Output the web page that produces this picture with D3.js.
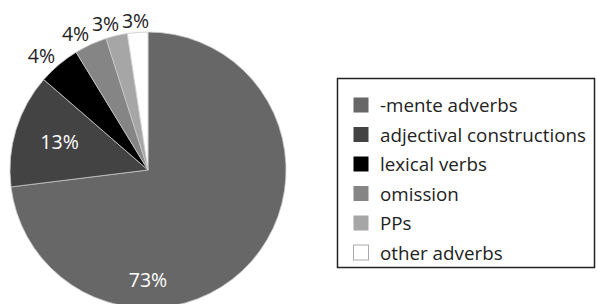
<!DOCTYPE html>
<html>
<head>
<meta charset="utf-8">
<script src="https://cdn.jsdelivr.net/npm/d3@7"></script>
<style>
  body { margin: 0; background: #fff; }
  svg { display: block; }
</style>
</head>
<body>
<svg id="chart" width="597" height="304"></svg>
<script>
const categories = ["-mente adverbs", "adjectival constructions", "lexical verbs", "omission", "PPs", "other adverbs"];
const values = [72.9, 13.3, 4.9, 3.8, 2.5, 2.4];
const labels = ["73%", "13%", "4%", "4%", "3%", "3%"];
const colors = ["#676767", "#434343", "#000000", "#858585", "#a6a6a6", "#ffffff"];

const svg = d3.select("#chart");
const cx = 148, cy = 170, R = 138;

const pie = d3.pie().sort(null).value(d => d.v);
const data = categories.map((c, i) => ({ c, v: values[i], label: labels[i], color: colors[i] }));
const arcs = pie(data);
const arc = d3.arc().innerRadius(0).outerRadius(R);

const g = svg.append("g").attr("transform", `translate(${cx},${cy})`);
g.selectAll("path.slice").data(arcs).join("path")
  .attr("class", "slice")
  .attr("d", arc)
  .attr("fill", d => d.data.color)
  .attr("stroke", "#c8c8c8")
  .attr("stroke-width", 0.8);

// label positions
arcs.forEach(d => {
  const share = (d.endAngle - d.startAngle) / (2 * Math.PI);
  const m = (d.startAngle + d.endAngle) / 2;
  if (share > 0.5) {
    d.lx = 0; d.ly = R * 0.79; d.fill = "#fff"; d.outer = false;
  } else if (share > 0.08) {
    d.lx = Math.sin(m) * R * 0.67; d.ly = -Math.cos(m) * R * 0.72; d.fill = "#fff"; d.outer = false;
  } else {
    d.lx = Math.sin(m) * 165; d.ly = -Math.cos(m) * 150; d.fill = "#222"; d.outer = true;
  }
});
// push outer labels apart (right to left)
const outer = arcs.filter(d => d.outer);
for (let i = outer.length - 2; i >= 0; i--) {
  outer[i].lx = Math.min(outer[i].lx, outer[i + 1].lx - 30);
}

const font = "'Open Sans', sans-serif";
g.selectAll("text.lbl").data(arcs).join("text")
  .attr("class", "lbl")
  .attr("x", d => d.lx)
  .attr("y", d => d.ly)
  .attr("fill", d => d.fill)
  .attr("text-anchor", "middle")
  .attr("dominant-baseline", "central")
  .attr("font-family", font)
  .attr("font-size", 19.5)
  .text(d => d.data.label);

// Legend
const lg = svg.append("g");
lg.append("rect")
  .attr("x", 337.5).attr("y", 78.5).attr("width", 257).attr("height", 189)
  .attr("fill", "#fff").attr("stroke", "#222").attr("stroke-width", 1.5);

const ly = d3.scalePoint().domain(categories).range([105, 252.5]);
const items = lg.selectAll("g.item").data(data).join("g").attr("class", "item")
  .attr("transform", d => `translate(0,${ly(d.c)})`);
items.append("rect")
  .attr("x", 353.5).attr("y", -7.5).attr("width", 15).attr("height", 15)
  .attr("fill", d => d.color)
  .attr("stroke", d => d.color === "#ffffff" ? "#aaa" : "none")
  .attr("stroke-width", 1);
items.append("text")
  .attr("x", 380).attr("y", 0)
  .attr("dominant-baseline", "central")
  .attr("font-family", font)
  .attr("font-size", 18.8)
  .attr("fill", "#222")
  .text(d => d.c);
</script>
</body>
</html>
